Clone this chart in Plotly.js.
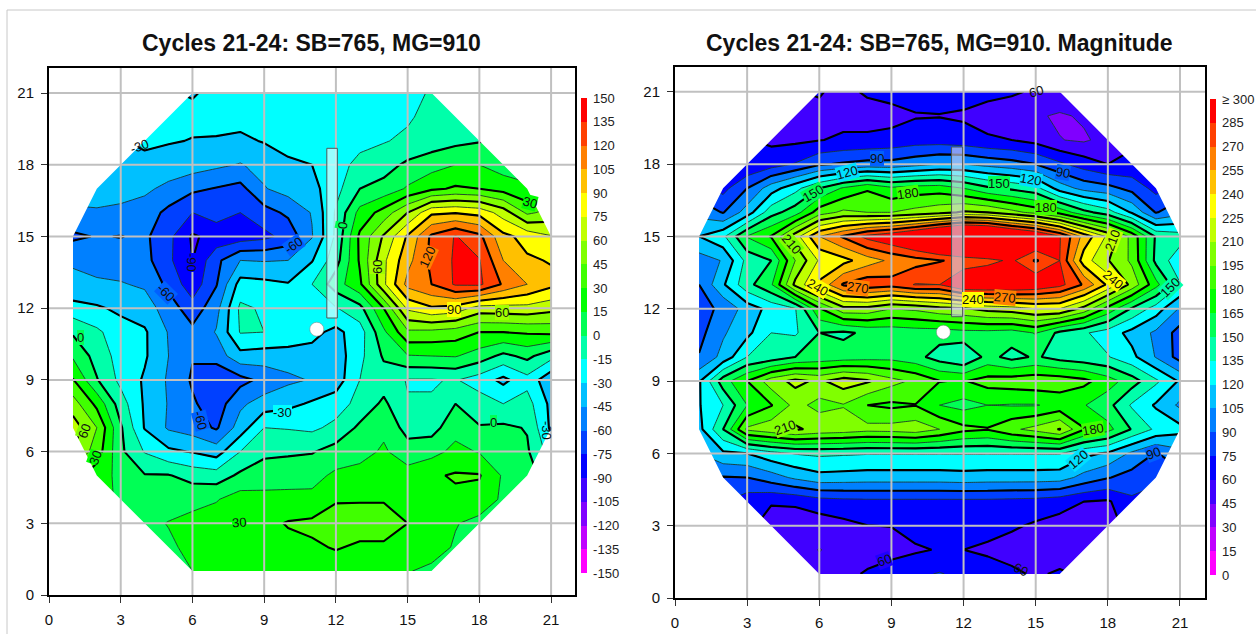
<!DOCTYPE html>
<html><head><meta charset="utf-8">
<script src="https://cdn.plot.ly/plotly-3.0.1.min.js"></script>
<style>html,body{margin:0;padding:0;background:#fff}</style></head>
<body><div id="chart" style="width:1256px;height:634px"></div>
<script>
const _ = null;
const gridX = [1,2,3,4,5,6,7,8,9,10,11,12,13,14,15,16,17,18,19,20,21];
const gridY = [21,20,19,18,17,16,15,14,13,12,11,10,9,8,7,6,5,4,3,2,1];

const signedRows = [
[_,_,_,_,_,-31,-27,-25,-24,-23,-22,-22,-21,-20,-18,-14,_,_,_,_,_],
[_,_,_,_,-27,-27,-26,-25,-24,-23,-22,-22,-21,-20,-17,-10,-6,_,_,_,_],
[_,_,_,-28,-29,-30.5,-31,-33,-29,-26,-23,-20,-18,-16,-12,-8,-4,-1,_,_,_],
[_,_,-31,-33,-36,-38,-42,-46,-40,-32,-30,-19,-12,-6,3,9,15,15,8,_,_],
[_,-37,-40,-42,-49,-57,-61,-65,-46,-39,-35,-20,0,5,17,27,32,30,24,16,_],
[-47,-47,-48,-52,-64,-75,-68,-75,-66,-57,-44,-13,20,36,60,87,89,85,68,42,50],
[-63,-59,-60.5,-57,-71,-92,-85,-83,-79,-70,-46,-12,33,62,92,123,136,124,94,85,76],
[-46,-50,-52,-55,-72,-90,-64,-45,-46,-45,-31,-6,32,72,100,124,137,136,105,92,89],
[-43,-43,-44,-47,-64,-84,-61,-24,-26,-29,-15,8,27,72,110,120,137,138,118,105,94],
[-24,-28,-33,-38,-52,-69,-50,-12,-17,-22,-21,-16,-5,30,78,88,84,68,69,70,65],
[-2,-12,-24,-28,-46,-56,-44,-14,-15,-17,-26,-34,-22,12,42,41,38,30,30,32,34],
[13,-6,-21,-28,-45,-59,-53,-35,-37,-38,-35,-38,-19,2,14,15,16,8,-4,4,-10],
[31,1,-19,-32,-47,-62,-74,-65,-56,-48,-44,-38,-15,-7,-16,-16,-14,-22,-34,-20,-41],
[52,26,-8,-32,-46,-58,-68,-48,-38,-34,-28,-22,-10,3,-14,-14,0,-8,-15,-9,-34],
[68,45,2,-31,-47,-52,-62,-38,-15,-16,-18,-11,3,12,-6,-6,10,1,3,-1,-33],
[60,38,3,-16,-27,-31,-37,-15,-3,-2,-1,6,10,17,7,10,19,14,6,2,-22],
[_,22,11,1,1,-6,-8,3,7,8,10,18,20,20,21,28,31.5,31,13,4,_],
[_,_,13,8,10,12,14,22,20,20,19,29,29,29,27,27,27,25,12,_,_],
[_,_,_,12,15.5,18,22,24,26,31,33,35,36,36,30,24,16,10,_,_,_],
[_,_,_,_,13,18,20,22,24,26,28,31,28,28,26,23,13,_,_,_,_],
[_,_,_,_,_,15,18,19,20,21,22,23,23,22,16,11,_,_,_,_,_]
];

const magnitudeRows = [
[_,_,_,_,_,61,56,62,65,66,66,66,64,62,58,57,_,_,_,_,_],
[_,_,_,_,58,57,56,54,55,59,59.5,58,54,51,47,43,47,_,_,_,_],
[_,_,_,57,57,59.5,62,63,65,68,68,66,62,60,55,45.5,43,50,_,_,_],
[_,_,61,68,76,88,92,95,95,100,105,105,100,96,90,78,68,60,63,_,_],
[_,70,90,113,130,150,167,178,168,172,173,165,153,147,140,113,100,95,85,70,_],
[100,89,112,144,158,188,198,195,195,200,205,212,210,200,190,175,155,142,118,89,100],
[120,132,166,181,218,255,272,290,300,315,335,352,345,325,310,286,250,222,190,148,142],
[98,106,140,150,195,227,235,248,258,264,269,274,280,288,268,285,232,211,192,146,125],
[90,118,145,163,214,243,272,280,276,286,285,305,305,305,300,290,268,237,205,170,136],
[85,93,112,125,134,178,205,205,195,198,205,208,215,218,225,225,205,175,148,128,103],
[85,103,116,135,133,150,147,153,155,157,157,160,160,158,166,146,137,128,115,102,84],
[91,110,135,141,150,155,157,159,160,155,143,135,155,145,152,144,140,136,124,104,84],
[118,158,180,203,214,207,218,212,200,192,180.5,179,186,188,190,189,184,172,157,138,118],
[119,135,165,179,200,190,194,180,177,179.5,165,160,165,164,164,170,166,155,133,118,102],
[115,150,198,205,212,206,204,200,201,204,195,184,181,192,200,211,181,170,149,132,125],
[105,117,120,130,136,138,137,136,136,136,136,136,136,136,136,136,124,118,102,89,100],
[_,89,90,98,108,115,114,113,113,113,113,114,113,113,113,112,100,91,84,76,_],
[_,_,66,61,62,68,70,71,71,71,71,71,71,70,69,66,60,58,72,_,_],
[_,_,_,55,53,52,56,59.8,60.3,66,70,68,66,62,58,54,53,55,_,_,_],
[_,_,_,_,52,44.5,49,52,55,58,61,60,57,54,52,52,53,_,_,_,_],
[_,_,_,_,_,50,55,62,67,72,76,71,68,63,58,62,_,_,_,_,_]
];

const bandColors = ['#ff00ff','#c000ff','#8000ff','#4000ff','#0000ff','#0040ff','#0080ff','#00c0ff','#00ffff','#00ffaa','#00ff55','#00ff00','#40ff00','#80ff00','#c0ff00','#ffff00','#ffc000','#ff8000','#ff4000','#ff0000'];
const signedLevels = [-150,-135,-120,-105,-90,-75,-60,-45,-30,-15,0,15,30,45,60,75,90,105,120,135,150];
const magnitudeLevels = [0,15,30,45,60,75,90,105,120,135,150,165,180,195,210,225,240,255,270,285,300];
const magnitudeTickText = ['0','15','30','45','60','75','90','105','120','135','150','165','180','195','210','225','240','255','270','285','≥ 300'];
const gridLines = [3,6,9,12,15,18,21];
const outlineX = [6,16,20,21,21,20,16,6,2,1,1,2];
const outlineY = [21,21,17,15,7,5,1,1,5,7,15,17];
const titles = ['Cycles 21-24: SB=765, MG=910','Cycles 21-24: SB=765, MG=910. Magnitude'];
const stripLeft = {x:[11.62,12.06], y:[11.59,18.69]};
const stripRight = {x:[11.5,11.96], y:[11.67,18.71]};
const dotLeft = [11.2,11.12];
const dotRight = [11.16,11.03];

// contour labels: pixel x, pixel y, text, angle, backing colour
const NB = 'rgba(0,0,0,0)';
const signedLabels = [
[139,146,'-30',-20,NB],[293,245,'-60',-35,'#0060ff'],[192,262,'-90',90,'#0000ff'],[166,292,'-60',45,'#0060ff'],
[80,337,'0',0,'#00ff55'],[342,226,'0',-80,'#00ff55'],[377,267,'60',-90,'#a0ff00'],[428,257,'120',-65,'#ff8000'],
[454,309,'90',0,'#ffff00'],[502,312,'60',0,'#a0ff00'],[530,202,'30',15,'#00ff00'],[84,431,'60',-70,'#80ff00'],
[96,458,'30',-70,'#00ff00'],[201,420,'-60',75,'#0060ff'],[282,412,'-30',0,'#00ffff'],[239,522,'30',-5,'#00ff00'],
[493,422,'0',0,'#00ff55'],[547,430,'-30',90,NB]];
const magnitudeLabels = [
[1036,91,'60',-15,NB],[877,158,'90',0,'#0060ff'],[847,172,'120',-15,'#00e0ff'],[813,193,'150',-30,'#00ff55'],
[908,193,'180',-8,'#40ff00'],[792,244,'210',50,'#80ff00'],[818,287,'240',30,'#ffff00'],[858,287,'270',8,'#ff8000'],
[999,183,'150',0,'#00ff55'],[1031,179,'120',10,'#00e0ff'],[1063,172,'90',10,'#0060ff'],[1046,208,'180',0,'#40ff00'],
[973,300,'240',0,'#ffff00'],[1005,297,'270',5,'#ff8000'],[1112,240,'210',-70,'#c0ff00'],[1113,280,'240',40,'#ffff00'],
[1170,287,'150',-45,'#00ffaa'],[1153,453,'90',-20,'#0060ff'],[1078,459,'120',-40,'#00e0ff'],[1093,429,'180',-10,'#40ff00'],
[1021,569,'60',25,NB],[884,560,'60',-20,'#2000ff'],[785,427,'210',-20,'#80ff00']];

const W = 1256, H = 634;
const FONT = '"Liberation Sans", Arial, sans-serif';
const stepScale = bandColors.flatMap((c,i)=>[[i/20,c],[(i+1)/20,c]]);

function contourSet(rows, levels, xa, ya, cb, tickText, thinEnd, boldEnd){
  const lo = levels[0], hi = levels[levels.length-1];
  const y = gridY, x = gridX;
  const common = {type:'contour',x,y,z:rows,xaxis:xa,yaxis:ya,zmin:lo,zmax:hi,zauto:false,
    autocontour:false,connectgaps:false,hoverinfo:'skip'};
  return [Object.assign({},common,{
    contours:{start:lo,end:hi,size:15,coloring:'fill',showlines:false},
    line:{width:0,smoothing:0},
    colorscale:stepScale, showscale:true,
    colorbar:Object.assign({
      thicknessmode:'pixels',thickness:6,lenmode:'pixels',xanchor:'left',yanchor:'middle',
      xpad:0,ypad:0,outlinewidth:0,borderwidth:0,ticks:'outside',ticklen:4,tickcolor:'rgba(0,0,0,0)',
      tickvals:levels,ticktext:tickText||levels.map(String),
      tickfont:{family:FONT,size:13,color:'#222'}
    },cb)
  }),Object.assign({},common,{
    showscale:false,
    contours:{start:lo,end:thinEnd,size:15,coloring:'none',showlines:true},
    line:{color:'#1c3a2c',width:0.9,smoothing:0}
  }),Object.assign({},common,{
    showscale:false,
    contours:{start:lo,end:boldEnd,size:30,coloring:'none',showlines:true},
    line:{color:'#000',width:2.1,smoothing:0}
  })];
}

function overlays(xr,yr,strip,dot,stripFill){
  const s = [];
  let ring = 'M 0.5 0.5 H 21.5 V 21.5 H 0.5 Z ';
  outlineX.forEach((v,i)=>{ ring += (i?'L ':'M ')+v+' '+outlineY[i]+' '; });
  ring += 'Z';
  s.push({type:'path',path:ring,xref:xr,yref:yr,fillcolor:'#fff',fillrule:'evenodd',line:{width:0},layer:'above'});
  const xdom = xr+' domain', ydom = yr+' domain';
  gridLines.forEach(g=>{
    s.push({type:'line',xref:xr,yref:ydom,x0:g,x1:g,y0:0,y1:1,line:{color:'#c0c0c0',width:2},layer:'above'});
    s.push({type:'line',xref:xdom,yref:yr,x0:0,x1:1,y0:g,y1:g,line:{color:'#c0c0c0',width:2},layer:'above'});
  });
  s.push({type:'rect',xref:xr,yref:yr,x0:strip.x[0],x1:strip.x[1],y0:strip.y[0],y1:strip.y[1],
          fillcolor:stripFill,line:{color:'#4a5a5a',width:1},layer:'above'});
  s.push({type:'circle',xref:xr,yref:yr,xsizemode:'pixel',ysizemode:'pixel',xanchor:dot[0],yanchor:dot[1],
          x0:-7,x1:7,y0:-7,y1:7,fillcolor:'#fff',line:{color:'#777',width:0.5},layer:'above'});
  return s;
}

const axisBase = {tickmode:'array',tickvals:[0].concat(gridLines),showgrid:false,zeroline:false,showline:true,mirror:true,
  linecolor:'#000',linewidth:2,ticks:'outside',ticklen:6,tickcolor:'#333',tickwidth:1,ticklabelstandoff:4,
  tickfont:{family:FONT,size:15,color:'#111'}};

function label(a){
  return {xref:'paper',yref:'paper',x:a[0]/W,y:1-a[1]/H,text:a[2],textangle:a[3],showarrow:false,
    bgcolor:a[4],borderpad:0,borderwidth:0,xanchor:'center',yanchor:'middle',
    font:{family:FONT,size:13,color:'#101010'}};
}
function title(t,cx){
  return {xref:'paper',yref:'paper',x:cx/W,y:1-43/H,text:'<b>'+t+'</b>',showarrow:false,xanchor:'center',yanchor:'middle',
    font:{family:FONT,size:23,color:'#111'}};
}

const data = [].concat(
  contourSet(signedRows,signedLevels,'x','y',{x:581/W,y:1-335.5/H,len:475},null,150,150),
  contourSet(magnitudeRows,magnitudeLevels,'x2','y2',{x:1210/W,y:1-337/H,len:476},magnitudeTickText,285,270)
);

const layout = {
  width:W,height:H,margin:{l:0,r:0,t:0,b:0},paper_bgcolor:'#fff',plot_bgcolor:'#fff',showlegend:false,
  xaxis:Object.assign({},axisBase,{domain:[49/W,575/W],range:[0,22],anchor:'y'}),
  yaxis:Object.assign({},axisBase,{domain:[1-595/H,1-68/H],range:[0,22.05],anchor:'x'}),
  xaxis2:Object.assign({},axisBase,{domain:[675/W,1205/W],range:[0,22.04],anchor:'y2'}),
  yaxis2:Object.assign({},axisBase,{domain:[1-598/H,1-67/H],range:[0,22.03],anchor:'x2'}),
  shapes:[].concat(
    overlays('x','y',stripLeft,dotLeft,'rgba(190,255,255,0.8)'),
    overlays('x2','y2',stripRight,dotRight,'rgba(215,215,240,0.62)'),
    [{type:'line',xref:'paper',yref:'paper',x0:7/W,x1:7/W,y0:0,y1:1-10/H,line:{color:'#c8c8c8',width:1}},
     {type:'line',xref:'paper',yref:'paper',x0:7/W,x1:1,y0:1-10/H,y1:1-10/H,line:{color:'#c8c8c8',width:1}}]
  ),
  annotations:[title(titles[0],311.5),title(titles[1],939)].concat(signedLabels.map(label),magnitudeLabels.map(label))
};
Plotly.newPlot('chart',data,layout,{displayModeBar:false,staticPlot:true});
</script></body></html>
